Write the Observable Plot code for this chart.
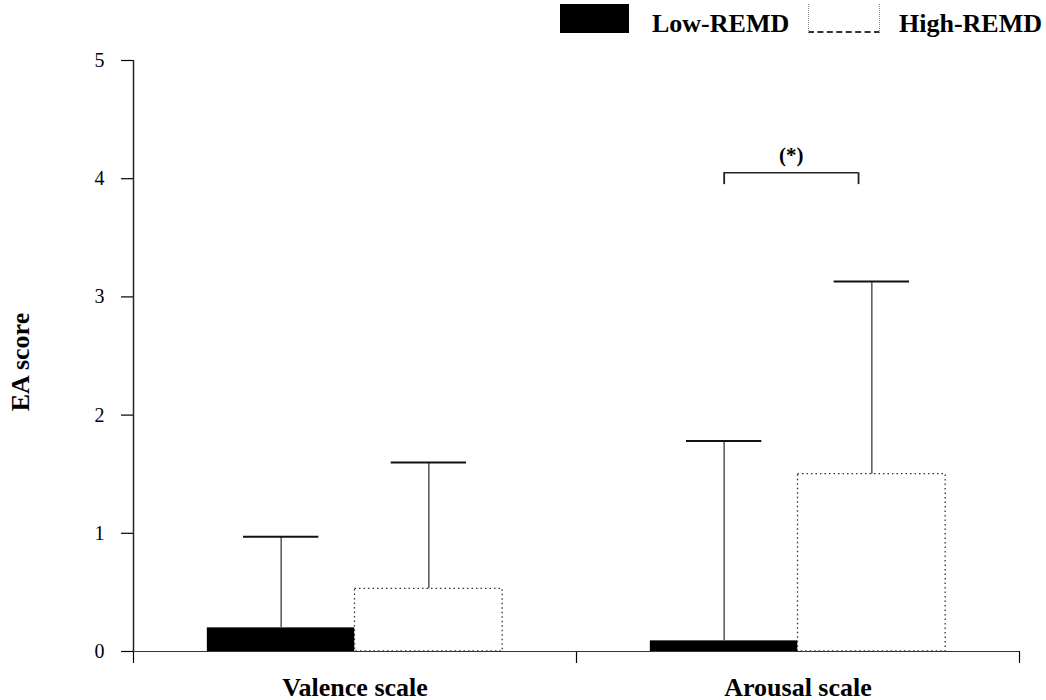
<!DOCTYPE html>
<html>
<head>
<meta charset="utf-8">
<script src="https://cdn.jsdelivr.net/npm/d3@7"></script>
<script src="https://cdn.jsdelivr.net/npm/@observablehq/plot@0.6"></script>
<style>
  html, body { margin: 0; padding: 0; background: #fff; }
  #wrap { position: relative; width: 1046px; height: 700px; font-family: "Liberation Serif", serif; }
  #chart { position: absolute; left: 0; top: 0; }
  #chart svg, #chart svg text { font-family: "Liberation Serif", serif; }
  .lg { position: absolute; }
  .lgtext { font-weight: bold; font-size: 26px; line-height: 26px; color: #000; white-space: nowrap; }
</style>
</head>
<body>
<div id="wrap">
  <div id="chart"></div>
  <div class="lg" style="left:560px; top:4px; width:69px; height:29px; background:#000;"></div>
  <div class="lg lgtext" style="left:652px; top:11px;">Low-REMD</div>
  <div class="lg" style="left:808px; top:4px; width:70px; height:27px; border-left:1px dotted #888; border-right:1px dotted #888; border-bottom:2px dashed #333;"></div>
  <div class="lg lgtext" style="left:899px; top:11px;">High-REMD</div>
</div>
<script>
const categories = ["Valence scale", "Arousal scale"];
const groups = ["Low-REMD", "High-REMD"];
const lowMean = [0.20, 0.09];
const highMean = [0.53, 1.50];
const lowUpper = [0.97, 1.78];
const highUpper = [1.60, 3.13];
const yTicks = [0, 1, 2, 3, 4, 5];
const sigLabel = "(*)";
const sigLevel = 4.05;
const sigCategory = "Arousal scale";

// layout derived in code (band of width 1 per category, two bars of 1/3 each)
const rows = [];
categories.forEach((c, i) => {
  [[lowMean, lowUpper], [highMean, highUpper]].forEach(([m, u], g) => {
    const x1 = i + 1 / 6 + g / 3;
    rows.push({cat: c, group: groups[g], mean: m[i], upper: u[i], x1, x2: x1 + 1 / 3, xc: x1 + 1 / 6});
  });
});
const capHalf = 0.085;
const sigRows = rows.filter(d => d.cat === sigCategory);
const sigX1 = sigRows[0].xc, sigX2 = sigRows[1].xc - 0.03;
const bandEdges = d3.range(categories.length + 1);
const serif = "'Liberation Serif', serif";

const chart = Plot.plot({
  width: 1046,
  height: 700,
  marginTop: 60,
  marginBottom: 49,
  marginLeft: 133,
  marginRight: 27,
  x: {domain: [0, categories.length]},
  y: {domain: [0, 5]},
  style: {fontFamily: serif, color: "#000", background: "transparent", overflow: "visible"},
  marks: [
    Plot.axisY(yTicks, {tickSize: 12, tickPadding: 17, fontSize: 20, fontFamily: serif, tickFormat: d3.format("d"), label: null, strokeWidth: 1.2}),
    Plot.axisX(bandEdges, {tickSize: 12, tickFormat: () => "", label: null, strokeWidth: 1.2}),
    Plot.text(categories, {x: (d, i) => i + 0.5, frameAnchor: "bottom", lineAnchor: "top", dy: 26, fontSize: 26, fontWeight: "bold", fontFamily: serif}),
    Plot.text(["EA score"], {frameAnchor: "left", textAnchor: "middle", rotate: -90, dx: -113, dy: 6, fontSize: 26, fontWeight: "bold", fontFamily: serif}),
    // bars
    Plot.rect(rows.filter(d => d.group === groups[0]), {x1: "x1", x2: "x2", y1: 0, y2: "mean", fill: "#000"}),
    Plot.rect(rows.filter(d => d.group === groups[1]), {x1: "x1", x2: "x2", y1: 0, y2: "mean", fill: "#fff", stroke: "#333", strokeWidth: 1.3, strokeDasharray: "1.5 3"}),
    // error bars
    Plot.ruleX(rows, {x: "xc", y1: "mean", y2: "upper", stroke: "#555", strokeWidth: 1.5}),
    Plot.ruleY(rows, {y: "upper", x1: d => d.xc - capHalf, x2: d => d.xc + capHalf, stroke: "#111", strokeWidth: 2}),
    // axis lines
    Plot.ruleX([0], {stroke: "#222", strokeWidth: 1.5}),
    Plot.ruleY([0], {stroke: "#333", strokeWidth: 1.2}),
    // significance bracket
    Plot.ruleY([sigLevel], {x1: sigX1, x2: sigX2, stroke: "#222", strokeWidth: 1.5}),
    Plot.ruleX([sigX1, sigX2], {x: d => d, y1: sigLevel - 0.1, y2: sigLevel, stroke: "#222", strokeWidth: 1.8}),
    Plot.text([sigLabel], {x: (sigX1 + sigX2) / 2, y: sigLevel, dy: -18, fontSize: 21, fontWeight: "bold", fontFamily: serif})
  ]
});
document.getElementById("chart").appendChild(chart);
</script>
</body>
</html>
